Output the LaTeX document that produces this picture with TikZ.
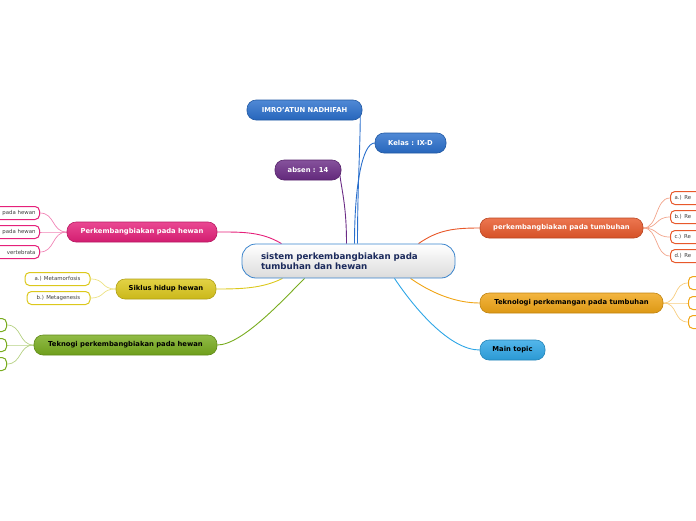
\documentclass[tikz,border=0pt]{standalone}
\usepackage{fontspec}
\setmainfont{DejaVu Sans}
\usetikzlibrary{positioning, backgrounds}

\definecolor{cblue}{HTML}{2A6FCC}
\definecolor{cpurple}{HTML}{6B2C86}
\definecolor{cpink}{HTML}{E5207A}
\definecolor{cyellow}{HTML}{DCC81C}
\definecolor{cgreen}{HTML}{78AC1E}
\definecolor{corange}{HTML}{E8582A}
\definecolor{camber}{HTML}{F0A516}
\definecolor{csky}{HTML}{2EA6E6}
\definecolor{cnavy}{HTML}{1B2A5C}
\definecolor{cedge}{HTML}{3A84CC}

\begin{document}
\begin{tikzpicture}[x=1pt, y=-1pt,
  root/.style={draw=cedge, line width=0.8pt, rounded corners=14pt, minimum width=213pt,
               minimum height=34pt, top color=white, bottom color=black!14,
               text width=175pt, align=left, text=cnavy,
               font=\bfseries\fontsize{8.7}{9.6}\selectfont},
  topic/.style={rounded corners=9pt, minimum height=20pt, inner xsep=4pt,
                draw=#1!80!black, line width=0.6pt, top color=#1!82!white,
                bottom color=#1!92!black, font=\bfseries\fontsize{6.8}{7.5}\selectfont},
  leaf/.style={rounded corners=4.5pt, minimum height=13pt, inner xsep=4pt, draw=#1,
               line width=1pt, fill=white, text=black!75,
               font=\fontsize{5.4}{6}\selectfont},
  link/.style={draw=#1, line width=0.9pt},
  twig/.style={draw=#1!55, line width=0.7pt},
]

\useasboundingbox (0,0) rectangle (696,520);
\clip (0,0) rectangle (696,520);

% Central topic
\node[root] (center) at (348.5,261) {sistem perkembangbiakan pada\\tumbuhan dan hewan};

% Upper topics
\node[topic=cblue, text=white, minimum width=115pt] (nama) at (304.5,110) {IMRO'ATUN NADHIFAH};
\node[topic=cblue, text=white, minimum width=71pt] (kelas) at (410.5,143) {Kelas : IX-D};
\node[topic=cpurple, text=white, minimum width=66pt] (absen) at (308,170) {absen : 14};

% Left topics
\node[topic=cpink, text=white, minimum width=150pt] (bkhewan) at (142,232) {Perkembangbiakan pada hewan};
\node[topic=cyellow, text=black, minimum width=100pt] (siklus) at (166,289) {Siklus hidup hewan};
\node[topic=cgreen, text=black, minimum width=183pt] (tekhewan) at (125.5,345) {Teknogi perkembangbiakan pada hewan};

% Right topics
\node[topic=corange, text=white, minimum width=163pt] (bktumbuhan) at (561.5,228) {perkembangbiakan pada tumbuhan};
\node[topic=camber, text=black, minimum width=183pt] (tektumbuhan) at (571.5,303) {Teknologi perkemangan pada tumbuhan};
\node[topic=csky, text=black, minimum width=65pt] (maintopic) at (512.5,350) {Main topic};

% Leaves, pink
\node[leaf=cpink, anchor=east, text width=60pt, align=right] (hewanA) at (40,213) {pada hewan};
\node[leaf=cpink, anchor=east, text width=60pt, align=right] (hewanB) at (40,232) {pada hewan};
\node[leaf=cpink, anchor=east, text width=60pt, align=right] (hewanC) at (40,252) {vertebrata};

% Leaves, yellow
\node[leaf=cyellow, minimum width=65pt] (meta) at (57.5,279) {a.) Metamorfosis};
\node[leaf=cyellow, minimum width=63pt] (metagen) at (58.5,298) {b.) Metagenesis};

% Leaves, green
\node[leaf=cgreen, anchor=east, minimum width=30pt] (tekA) at (7,325) {};
\node[leaf=cgreen, anchor=east, minimum width=30pt] (tekB) at (7,345) {};
\node[leaf=cgreen, anchor=east, minimum width=30pt] (tekC) at (7,364) {};

% Leaves, orange
\node[leaf=corange, anchor=west, text width=60pt, align=left] (tumA) at (670,198) {a.) Re};
\node[leaf=corange, anchor=west, text width=60pt, align=left] (tumB) at (670,217) {b.) Re};
\node[leaf=corange, anchor=west, text width=60pt, align=left] (tumC) at (670,237) {c.) Re};
\node[leaf=corange, anchor=west, text width=60pt, align=left] (tumD) at (670,256) {d.) Re};

% Leaves, amber
\node[leaf=camber, anchor=west, minimum width=30pt] (tekT1) at (688,283) {};
\node[leaf=camber, anchor=west, minimum width=30pt] (tekT2) at (688,303) {};
\node[leaf=camber, anchor=west, minimum width=30pt] (tekT3) at (688,322) {};

% Connectors
\begin{scope}[on background layer]
  \draw[link=cblue] ([xshift=9pt]center.north) .. controls +(0,-60) and +(0,40) .. ([xshift=-2pt]nama.east);
  \draw[link=cblue] ([xshift=6pt]center.north) .. controls +(0,-60) and +(-12,0) .. (kelas.west);
  \draw[link=cpurple] ([xshift=-2pt]center.north) .. controls +(0,-40) and +(2,20) .. ([xshift=-2pt]absen.east);
  \draw[link=cpink] ([xshift=-67pt]center.north) .. controls +(-20,-12) and +(25,0) .. (bkhewan.east);
  \draw[link=cyellow] ([xshift=-66pt]center.south) .. controls +(-20,10) and +(25,0) .. (siklus.east);
  \draw[link=cgreen] ([xshift=-44pt]center.south) .. controls +(-20,20) and +(25,0) .. (tekhewan.east);
  \draw[link=corange] ([xshift=70pt]center.north) .. controls +(20,-14) and +(-25,0) .. (bktumbuhan.west);
  \draw[link=camber] ([xshift=62pt]center.south) .. controls +(20,14) and +(-25,0) .. (tektumbuhan.west);
  \draw[link=csky] ([xshift=46pt]center.south) .. controls +(20,30) and +(-30,0) .. (maintopic.west);

  \foreach \leafnode in {hewanA, hewanB, hewanC}
    \draw[twig=cpink] (bkhewan.west) .. controls +(-15,0) and +(15,0) .. (\leafnode.east);
  \foreach \leafnode in {meta, metagen}
    \draw[twig=cyellow] (siklus.west) .. controls +(-15,0) and +(15,0) .. (\leafnode.east);
  \foreach \leafnode in {tekA, tekB, tekC}
    \draw[twig=cgreen] (tekhewan.west) .. controls +(-15,0) and +(15,0) .. (\leafnode.east);
  \foreach \leafnode in {tumA, tumB, tumC, tumD}
    \draw[twig=corange] (bktumbuhan.east) .. controls +(15,0) and +(-15,0) .. (\leafnode.west);
  \foreach \leafnode in {tekT1, tekT2, tekT3}
    \draw[twig=camber] (tektumbuhan.east) .. controls +(15,0) and +(-15,0) .. (\leafnode.west);
\end{scope}

\end{tikzpicture}
\end{document}
